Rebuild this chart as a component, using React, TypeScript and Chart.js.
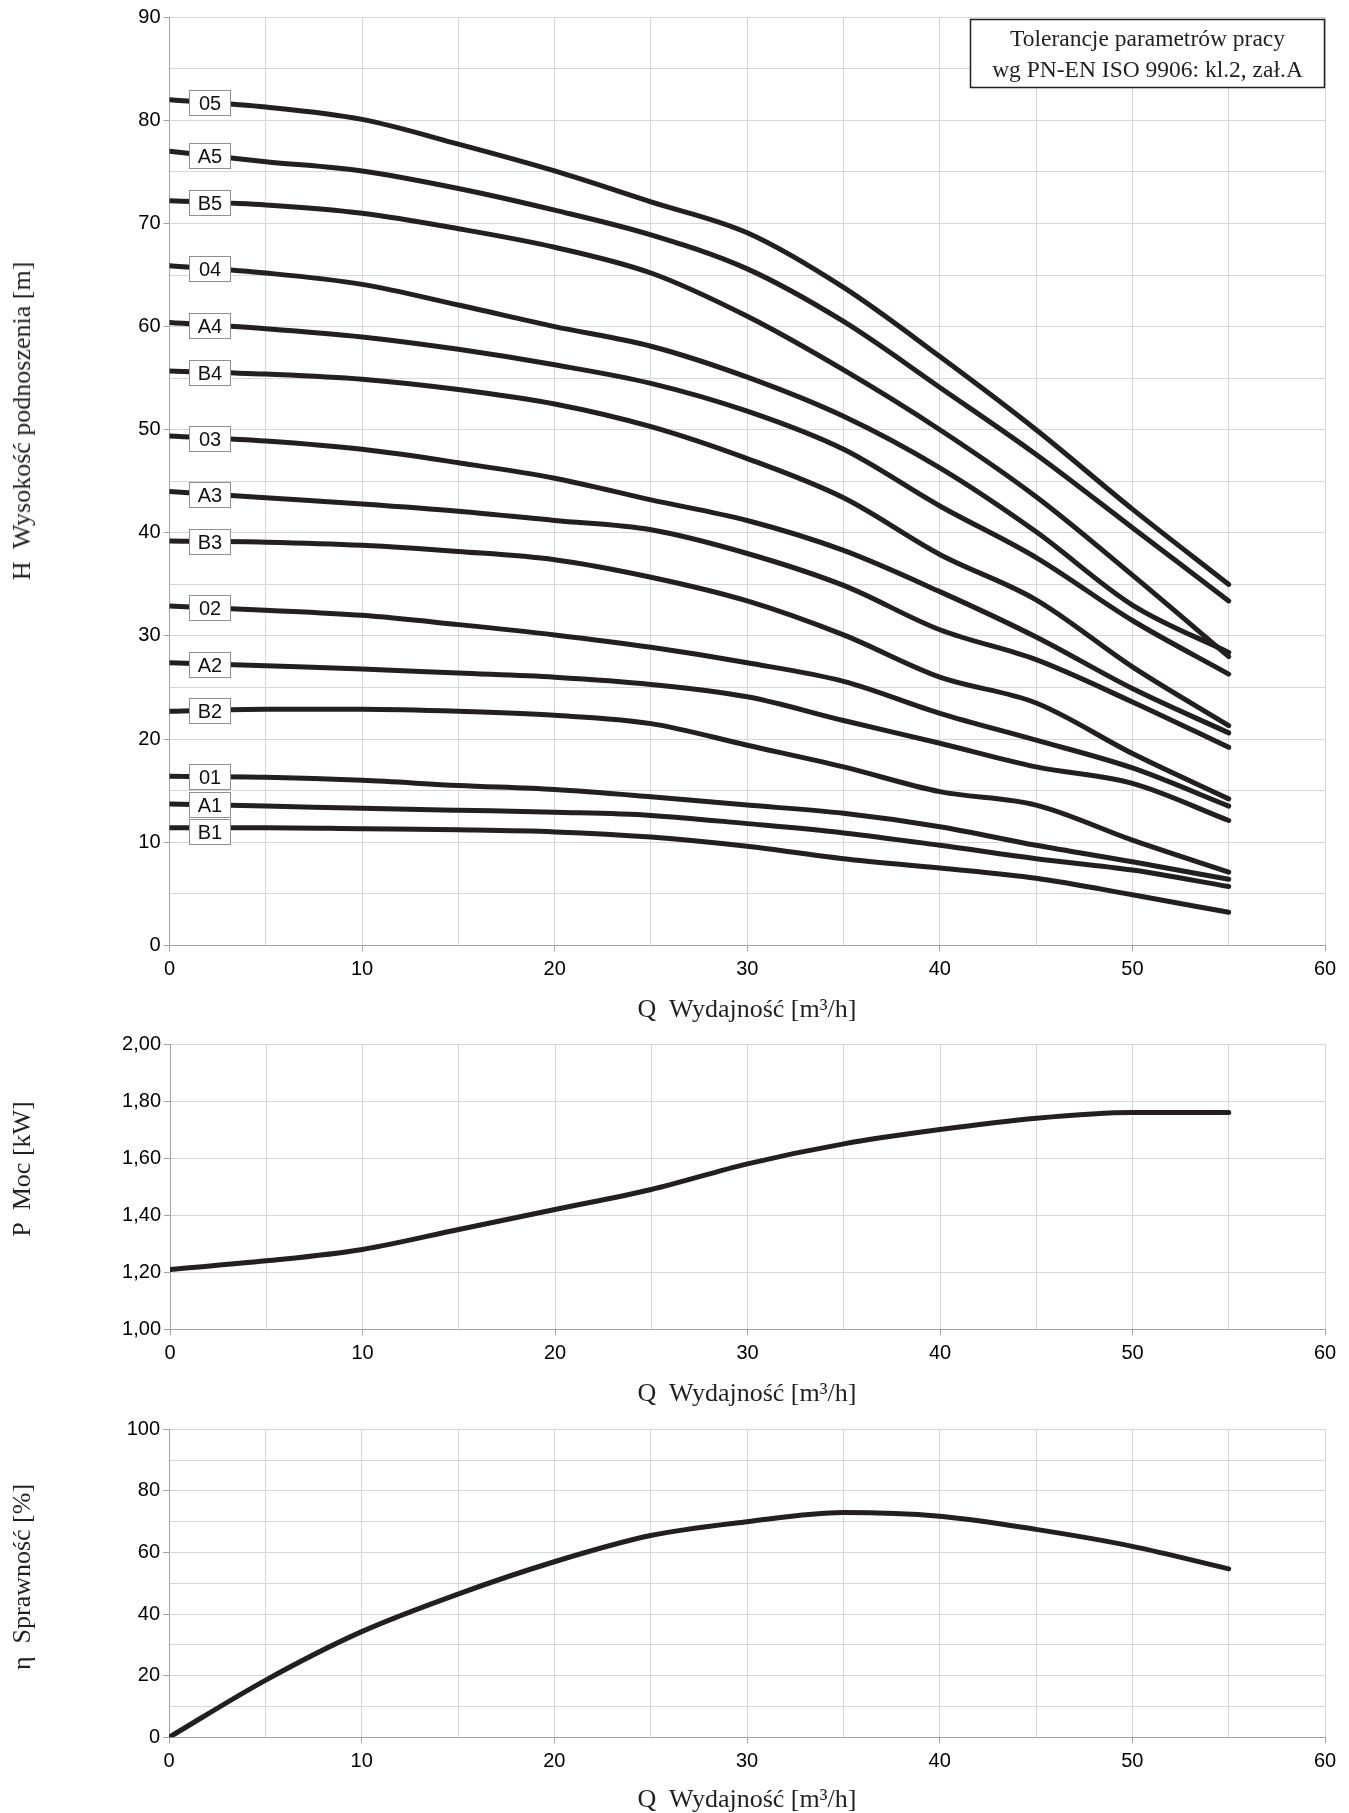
import React, { useEffect, useRef } from "react";
import { Chart, registerables } from "chart.js";

Chart.register(...registerables);

// ---------------- data ----------------
const Q_VALUES = [0, 5, 10, 15, 20, 25, 30, 35, 40, 45, 50, 55];

const CURVE_NAMES = ["05", "A5", "B5", "04", "A4", "B4", "03", "A3", "B3", "02", "A2", "B2", "01", "A1", "B1"];

const H_05 = [82.0, 81.3, 80.1, 77.7, 75.1, 72.1, 69.1, 63.8, 57.1, 50.0, 42.3, 35.0];
const H_A5 = [77.0, 76.0, 75.1, 73.4, 71.3, 68.9, 65.6, 60.5, 54.1, 47.6, 40.5, 33.4];
const H_B5 = [72.2, 71.8, 71.0, 69.5, 67.7, 65.2, 61.0, 55.8, 50.0, 43.5, 35.9, 28.0];
const H_04 = [65.9, 65.2, 64.1, 62.1, 60.0, 58.1, 55.1, 51.3, 46.3, 40.1, 33.0, 28.4];
const H_A4 = [60.4, 59.8, 59.0, 57.8, 56.3, 54.5, 51.8, 48.1, 42.6, 37.6, 31.5, 26.3];
const H_B4 = [55.7, 55.4, 54.9, 53.9, 52.5, 50.3, 47.2, 43.4, 37.9, 33.5, 27.0, 21.3];
const H_03 = [49.4, 48.9, 48.1, 46.8, 45.3, 43.2, 41.2, 38.3, 34.3, 29.9, 24.9, 20.6];
const H_A3 = [44.0, 43.4, 42.8, 42.1, 41.2, 40.3, 38.0, 34.9, 30.6, 27.7, 23.6, 19.2];
const H_B3 = [39.2, 39.1, 38.8, 38.2, 37.4, 35.7, 33.4, 30.1, 26.0, 23.5, 18.6, 14.2];
const H_02 = [32.9, 32.5, 32.0, 31.1, 30.1, 28.9, 27.4, 25.6, 22.5, 19.9, 17.2, 13.5];
const H_A2 = [27.4, 27.1, 26.8, 26.4, 26.0, 25.3, 24.1, 21.8, 19.6, 17.3, 15.7, 12.1];
const H_B2 = [22.7, 22.9, 22.9, 22.7, 22.3, 21.5, 19.4, 17.3, 14.9, 13.6, 10.2, 7.1];
const H_01 = [16.4, 16.3, 16.0, 15.5, 15.1, 14.4, 13.6, 12.8, 11.5, 9.7, 8.1, 6.4];
const H_A1 = [13.7, 13.5, 13.3, 13.1, 12.9, 12.6, 11.8, 10.9, 9.7, 8.4, 7.3, 5.7];
const H_B1 = [11.4, 11.4, 11.3, 11.2, 11.0, 10.5, 9.6, 8.4, 7.5, 6.5, 4.9, 3.2];

const H_SERIES = [H_05, H_A5, H_B5, H_04, H_A4, H_B4, H_03, H_A3, H_B3, H_02, H_A2, H_B2, H_01, H_A1, H_B1];

const P_KW = [1.21, 1.24, 1.28, 1.35, 1.42, 1.49, 1.58, 1.65, 1.7, 1.74, 1.76, 1.76];
const ETA_PCT = [0, 18.5, 34.3, 46.5, 57.0, 65.5, 70.0, 73.0, 71.8, 67.5, 62.0, 54.7];

const X_TITLE = "Q  Wydajność [m³/h]";
const H_TITLE = "H  Wysokość podnoszenia [m]";
const P_TITLE = "P  Moc [kW]";
const ETA_TITLE = "η  Sprawność [%]";
const TOLERANCE_LINES = ["Tolerancje parametrów pracy", "wg PN-EN ISO 9906: kl.2, zał.A"];
const LABEL_Q = 2.1;

// ---------------- styles ----------------
const FONT_SANS = '"Liberation Sans", Arial, sans-serif';
const FONT_SERIF = '"Liberation Serif", "Times New Roman", serif';
const GRID = "#d6d6d6";
const AXIS = "#a3a3a3";
const INK = "#231f20";
const TICK_FONT = 20;

const isMultiple = (v: number, m: number) => Math.abs(v / m - Math.round(v / m)) < 1e-6;

function xAxis(height: number) {
  return {
    type: "linear",
    min: 0,
    max: 60,
    ticks: {
      stepSize: 5,
      autoSkip: false,
      maxRotation: 0,
      padding: 6,
      color: "#000",
      font: { family: FONT_SANS, size: TICK_FONT },
      callback: (v: number) => (isMultiple(v, 10) ? String(v) : ""),
    },
    grid: {
      color: GRID,
      lineWidth: 1,
      tickLength: 6,
      tickColor: (c: any) => (c.tick && isMultiple(c.tick.value, 10) ? AXIS : "rgba(0,0,0,0)"),
    },
    border: { color: AXIS, width: 1 },
    afterFit: (s: any) => {
      s.height = height;
    },
  };
}

function yAxis(min: number, max: number, step: number, major: number, fmt: (v: number) => string) {
  return {
    type: "linear",
    min,
    max,
    ticks: {
      stepSize: step,
      autoSkip: false,
      padding: 3,
      color: "#000",
      font: { family: FONT_SANS, size: TICK_FONT },
      callback: (v: number) => (isMultiple(v, major) ? fmt(v) : ""),
    },
    grid: {
      color: GRID,
      lineWidth: 1,
      tickLength: 6,
      tickColor: (c: any) => (c.tick && isMultiple(c.tick.value, major) ? AXIS : "rgba(0,0,0,0)"),
    },
    border: { color: AXIS, width: 1 },
    afterFit: (s: any) => {
      s.width = 60;
    },
  };
}

function lineDataset(label: string, values: number[]) {
  return {
    label,
    data: Q_VALUES.map((q, i) => ({ x: q, y: values[i] })),
    borderColor: INK,
    backgroundColor: INK,
    borderWidth: 5,
    pointRadius: 0,
    fill: false,
    cubicInterpolationMode: "monotone",
    borderCapStyle: "round",
    borderJoinStyle: "round",
  };
}

function interpAt(xs: number[], ys: number[], x: number) {
  for (let i = 0; i < xs.length - 1; i++) {
    if (x >= xs[i] && x <= xs[i + 1]) {
      const t = (x - xs[i]) / (xs[i + 1] - xs[i]);
      return ys[i] + t * (ys[i + 1] - ys[i]);
    }
  }
  return ys[ys.length - 1];
}

const curveLabelPlugin = {
  id: "curveLabels",
  afterDatasetsDraw(chart: any) {
    const { ctx } = chart;
    const xs = chart.scales.x;
    const ys = chart.scales.y;
    const boxW = 41;
    const boxH = 25;
    const boxes = CURVE_NAMES.map((name, i) => ({
      name,
      cx: xs.getPixelForValue(LABEL_Q),
      cy: ys.getPixelForValue(interpAt(Q_VALUES, H_SERIES[i], LABEL_Q)),
    })).sort((a, b) => a.cy - b.cy);
    ctx.save();
    ctx.font = `20px ${FONT_SANS}`;
    ctx.textAlign = "center";
    ctx.textBaseline = "middle";
    let prevBottom = -Infinity;
    for (const b of boxes) {
      let top = b.cy - boxH / 2;
      if (top < prevBottom + 1) top = prevBottom + 1;
      const left = Math.round(b.cx - boxW / 2) + 0.5;
      const t = Math.round(top) + 0.5;
      ctx.fillStyle = "#ffffff";
      ctx.fillRect(left, t, boxW, boxH);
      ctx.strokeStyle = "#8f8f8f";
      ctx.lineWidth = 1;
      ctx.strokeRect(left, t, boxW, boxH);
      ctx.fillStyle = "#111";
      ctx.fillText(b.name, left + boxW / 2, t + boxH / 2 + 1);
      prevBottom = t + boxH;
    }
    ctx.restore();
  },
};

const tolerancePlugin = {
  id: "toleranceBox",
  afterDraw(chart: any) {
    const { ctx, chartArea } = chart;
    const w = 354;
    const h = 68;
    const right = chartArea.right - 1;
    const left = Math.round(right - w) + 0.5;
    const top = Math.round(chartArea.top + 2) + 0.5;
    ctx.save();
    ctx.fillStyle = "#ffffff";
    ctx.fillRect(left, top, w, h);
    ctx.strokeStyle = INK;
    ctx.lineWidth = 1.5;
    ctx.strokeRect(left, top, w, h);
    ctx.fillStyle = INK;
    ctx.font = `23.5px ${FONT_SERIF}`;
    ctx.textAlign = "center";
    ctx.textBaseline = "alphabetic";
    ctx.fillText(TOLERANCE_LINES[0], left + w / 2, top + 26);
    ctx.fillText(TOLERANCE_LINES[1], left + w / 2, top + 57);
    ctx.restore();
  },
};

function baseOptions(padding: any, scales: any) {
  return {
    responsive: false,
    animation: false,
    events: [],
    layout: { padding },
    plugins: { legend: { display: false }, tooltip: { enabled: false }, title: { display: false } },
    scales,
  };
}

const fmtInt = (v: number) => String(Math.round(v));
const fmtComma = (v: number) => v.toFixed(2).replace(".", ",");

export default function App() {
  const c1 = useRef<HTMLCanvasElement>(null);
  const c2 = useRef<HTMLCanvasElement>(null);
  const c3 = useRef<HTMLCanvasElement>(null);

  useEffect(() => {
    const charts: Chart[] = [];
    if (c1.current) {
      charts.push(
        new Chart(c1.current, {
          type: "line",
          data: { datasets: CURVE_NAMES.map((n, i) => lineDataset(n, H_SERIES[i])) as any },
          options: baseOptions(
            { left: 109.5, right: 24, top: 17.3, bottom: 0 },
            { x: xAxis(44.7), y: yAxis(0, 90, 5, 10, fmtInt) }
          ) as any,
          plugins: [curveLabelPlugin, tolerancePlugin],
        })
      );
    }
    if (c2.current) {
      charts.push(
        new Chart(c2.current, {
          type: "line",
          data: { datasets: [lineDataset("P", P_KW)] as any },
          options: baseOptions(
            { left: 110, right: 24, top: 44, bottom: 0 },
            { x: xAxis(50.7), y: yAxis(1, 2, 0.2, 0.2, fmtComma) }
          ) as any,
        })
      );
    }
    if (c3.current) {
      charts.push(
        new Chart(c3.current, {
          type: "line",
          data: { datasets: [lineDataset("eta", ETA_PCT)] as any },
          options: baseOptions(
            { left: 109, right: 24, top: 29.3, bottom: 0 },
            { x: xAxis(52.7), y: yAxis(0, 100, 10, 20, fmtInt) }
          ) as any,
        })
      );
    }
    return () => charts.forEach((c) => c.destroy());
  }, []);

  const title: React.CSSProperties = {
    position: "absolute",
    fontFamily: FONT_SERIF,
    fontSize: 26,
    color: INK,
    whiteSpace: "pre",
    lineHeight: 1,
    transform: "translate(-50%, -50%)",
  };
  const vtitle: React.CSSProperties = { ...title, transform: "translate(-50%, -50%) rotate(-90deg)" };

  return (
    <div style={{ position: "absolute", left: 0, top: 0, width: 1349, height: 1813, background: "#fff", overflow: "hidden" }}>
      <canvas ref={c1} width={1349} height={990} style={{ position: "absolute", left: 0, top: 0 }} />
      <canvas ref={c2} width={1349} height={380} style={{ position: "absolute", left: 0, top: 1000 }} />
      <canvas ref={c3} width={1349} height={390} style={{ position: "absolute", left: 0, top: 1400 }} />
      <div style={{ ...title, left: 747, top: 1009 }}>{X_TITLE}</div>
      <div style={{ ...title, left: 747, top: 1393 }}>{X_TITLE}</div>
      <div style={{ ...title, left: 747, top: 1799 }}>{X_TITLE}</div>
      <div style={{ ...vtitle, left: 22, top: 421 }}>{H_TITLE}</div>
      <div style={{ ...vtitle, left: 22, top: 1169 }}>{P_TITLE}</div>
      <div style={{ ...vtitle, left: 22, top: 1577 }}>{ETA_TITLE}</div>
    </div>
  );
}
